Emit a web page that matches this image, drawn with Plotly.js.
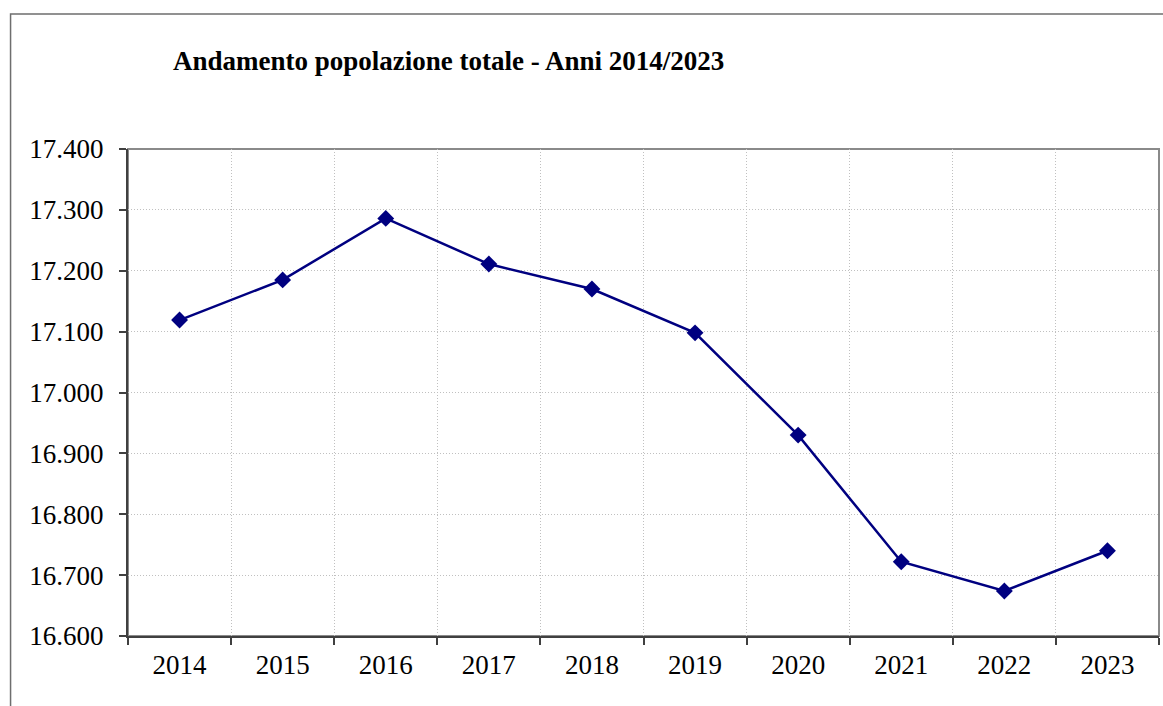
<!DOCTYPE html>
<html>
<head>
<meta charset="utf-8">
<script src="https://cdn.plot.ly/plotly-3.0.1.min.js"></script>
<style>
html,body{margin:0;padding:0;background:#fff;}
#chart{width:1163px;height:706px;}
</style>
</head>
<body>
<div id="chart"></div>
<script>
const years = ['2014','2015','2016','2017','2018','2019','2020','2021','2022','2023'];
const population = [17119, 17185, 17286, 17211, 17170, 17098, 16930, 16722, 16674, 16740];
const titleText = 'Andamento popolazione totale - Anni 2014/2023';

const W = 1163, H = 706;
const mL = 127.5, mR = 4, mT = 149, mB = 70;
const pw = W - mL - mR, ph = H - mT - mB;
// frame in paper coordinates
const fx0 = (10 - mL) / pw, fx1 = (W + 5 - mL) / pw;
const fy1 = (H - 14 - mB) / ph, fy0 = (-5 - mB) / ph;

const font = 'Liberation Serif, Times New Roman, serif';

const trace = {
  x: years,
  y: population,
  type: 'scatter',
  mode: 'lines+markers',
  line: {color: '#000080', width: 2.5},
  marker: {symbol: 'diamond', size: 13, color: '#000080'},
  hoverinfo: 'x+y'
};

const layout = {
  width: W, height: H,
  margin: {l: mL, r: mR, t: mT, b: mB},
  paper_bgcolor: '#ffffff',
  plot_bgcolor: '#ffffff',
  separators: ',.',
  showlegend: false,
  font: {family: font, color: '#000000', size: 27},
  title: {
    text: '<b>' + titleText + '</b>',
    font: {family: font, size: 27, color: '#000000'},
    xref: 'container', yref: 'container',
    x: 173 / W, xanchor: 'left',
    y: 1 - 61 / H, yanchor: 'middle'
  },
  xaxis: {
    type: 'category',
    range: [-0.5, 9.5],
    tickson: 'boundaries',
    ticks: 'outside', ticklen: 7, tickwidth: 1.5, tickcolor: '#404040',
    ticklabelstandoff: 4,
    showline: true, linecolor: '#404040', linewidth: 2,
    showgrid: true, gridcolor: '#c0c0c0', griddash: '1px,2px', gridwidth: 1,
    tickfont: {family: font, size: 27, color: '#000'},
    fixedrange: true
  },
  yaxis: {
    range: [16600, 17400],
    dtick: 100, tick0: 16600,
    tickformat: ',d',
    ticks: 'outside', ticklen: 7, tickwidth: 1.5, tickcolor: '#404040',
    ticklabelstandoff: 10,
    showline: true, linecolor: '#404040', linewidth: 2,
    showgrid: true, gridcolor: '#c0c0c0', griddash: '1px,2px', gridwidth: 1,
    zeroline: false,
    tickfont: {family: font, size: 27, color: '#000'},
    fixedrange: true
  },
  shapes: [
    {type: 'rect', xref: 'paper', yref: 'paper', x0: fx0, x1: fx1, y0: fy0, y1: fy1,
     line: {color: '#6e6e6e', width: 1.5}, fillcolor: 'rgba(0,0,0,0)', layer: 'below'},
    {type: 'rect', xref: 'paper', yref: 'paper', x0: 0, x1: 1, y0: 0, y1: 1,
     line: {color: '#8a8a8a', width: 2}, fillcolor: 'rgba(0,0,0,0)', layer: 'below'}
  ]
};

Plotly.newPlot('chart', [trace], layout, {displayModeBar: false, staticPlot: false});
</script>
</body>
</html>
